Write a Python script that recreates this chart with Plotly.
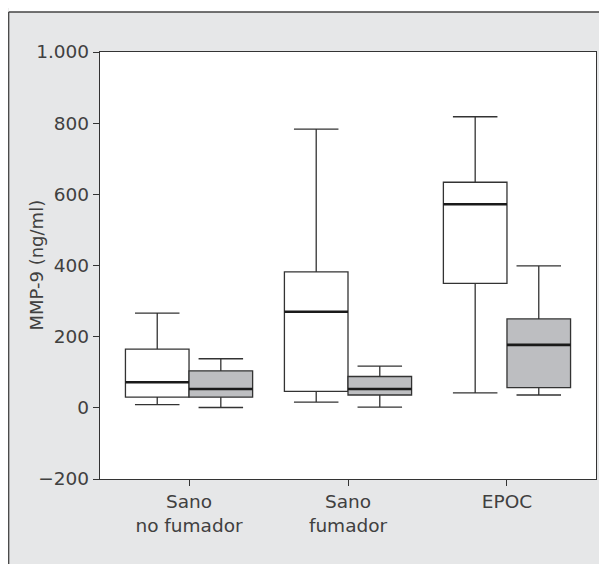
import plotly.graph_objects as go

categories = ["Sano<br>no fumador", "Sano<br>fumador", "EPOC"]
cat_pos = [0, 1, 2]

# group A (white boxes)
a_lower = [9, 16, 42]
a_q1 = [30, 46, 350]
a_median = [72, 270, 572]
a_q3 = [165, 382, 634]
a_upper = [266, 783, 818]

# group B (grey boxes)
b_lower = [1, 2, 36]
b_q1 = [30, 36, 57]
b_median = [53, 53, 177]
b_q3 = [104, 88, 250]
b_upper = [138, 117, 399]

y_tickvals = [-200, 0, 200, 400, 600, 800, 1000]
y_ticktext = ["\u2212200", "0", "200", "400", "600", "800", "1.000"]
y_title = "MMP-9 (ng/ml)"

BOX_W = 0.4
LINE = "#333333"
FONT = dict(family="DejaVu Sans", size=18.5, color="#404040")

fig = go.Figure()
fig.add_trace(go.Box(x=cat_pos, q1=a_q1, median=a_median, q3=a_q3,
                     lowerfence=a_lower, upperfence=a_upper,
                     fillcolor="white", line=dict(color=LINE, width=1.3),
                     whiskerwidth=0.7, name="A", showlegend=False,
                     hoverinfo="skip", boxpoints=False))
fig.add_trace(go.Box(x=cat_pos, q1=b_q1, median=b_median, q3=b_q3,
                     lowerfence=b_lower, upperfence=b_upper,
                     fillcolor="#bdbec1", line=dict(color=LINE, width=1.3),
                     whiskerwidth=0.7, name="B", showlegend=False,
                     hoverinfo="skip", boxpoints=False))

# thicker median lines
mx, my = [], []
for p, ma, mb in zip(cat_pos, a_median, b_median):
    mx += [p - BOX_W, p, None, p, p + BOX_W, None]
    my += [ma, ma, None, mb, mb, None]
fig.add_trace(go.Scatter(x=mx, y=my, mode="lines",
                         line=dict(color="#1a1a1a", width=2.6),
                         showlegend=False, hoverinfo="skip"))

# page body has an 8px margin; figure placed at (8, 8)
W, H = 599, 556
ML, MR, MT, MB = 92, 11, 44, 85
pw = W - ML - MR
ph = H - MT - MB
x0 = (-ML + 0.7) / pw
y1 = (ph + MT - 4) / ph
fig.add_shape(type="rect", xref="paper", yref="paper", x0=x0, x1=2, y0=y1, y1=2,
              fillcolor="white", line=dict(width=0), layer="below")
fig.add_shape(type="line", xref="paper", yref="paper", x0=x0, x1=x0, y0=-1, y1=y1,
              line=dict(color="#444444", width=1.3))
fig.add_shape(type="line", xref="paper", yref="paper", x0=x0, x1=2, y0=y1, y1=y1,
              line=dict(color="#444444", width=1.3))

fig.add_annotation(text=y_title, xref="paper", yref="paper",
                   x=(36 - 100) / pw, y=0.5, textangle=-90, showarrow=False,
                   xanchor="center", yanchor="middle",
                   font=dict(family="DejaVu Sans", size=18, color="#404040"))

fig.update_layout(
    width=W, height=H,
    margin=dict(l=ML, r=MR, t=MT, b=MB, autoexpand=False),
    paper_bgcolor="#e6e7e8", plot_bgcolor="white",
    boxmode="group", boxgap=0.2, boxgroupgap=0,
    font=FONT,
    showlegend=False,
)
fig.update_xaxes(range=[-0.56, 2.56], tickvals=cat_pos, ticktext=categories,
                 showline=True, mirror=True, linecolor=LINE, linewidth=1.3,
                 ticks="outside", ticklen=6, tickcolor=LINE, tickwidth=1.3,
                 showgrid=False, zeroline=False, tickfont=FONT, automargin=False)
fig.update_yaxes(range=[-200, 1000], tickvals=y_tickvals, ticktext=y_ticktext,
                 showline=True, mirror=True, linecolor=LINE, linewidth=1.3,
                 ticks="outside", ticklen=6, tickcolor=LINE, tickwidth=1.3,
                 showgrid=False, zeroline=False, tickfont=FONT, automargin=False)

fig.write_html("out.html")
